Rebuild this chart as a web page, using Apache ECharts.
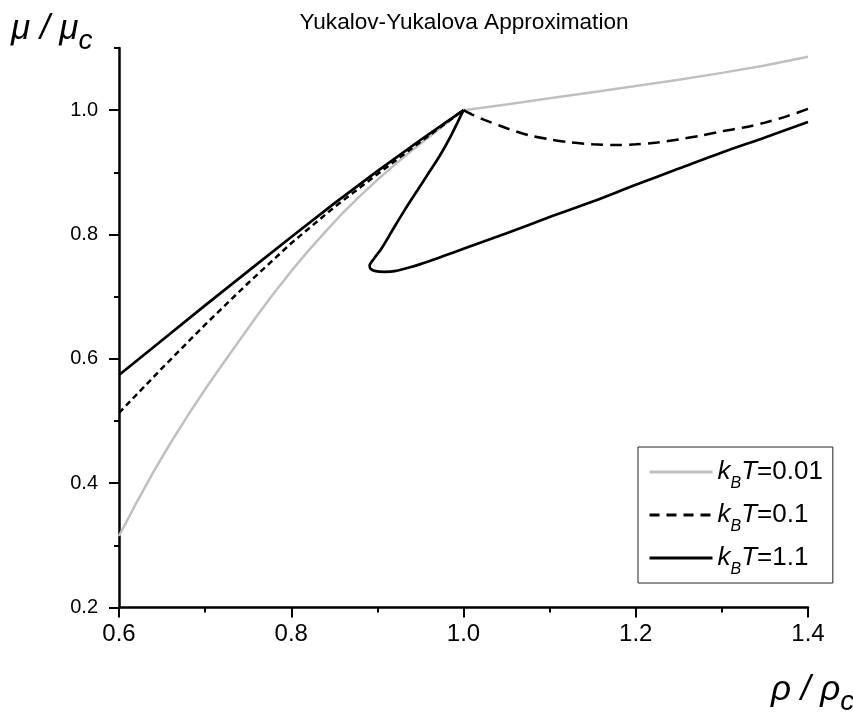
<!DOCTYPE html>
<html>
<head>
<meta charset="utf-8">
<title>Yukalov-Yukalova Approximation</title>
<script src="https://cdn.jsdelivr.net/npm/echarts@6/dist/echarts.min.js"></script>
<style>
  html, body { margin: 0; padding: 0; background: #fff; }
  #main { width: 853px; height: 713px; }
</style>
</head>
<body>
<div id="main"></div>
<script>
// legend labels (k_B T values)
var temps = ['0.01', '0.1', '1.1'];

// kBT = 0.01, grey curve
var rhoA = [0.60, 0.62, 0.64, 0.66, 0.68, 0.70, 0.72, 0.74, 0.76, 0.78, 0.80, 0.82, 0.84, 0.86, 0.88,
  0.90, 0.92, 0.94, 0.96, 0.98, 1.00, 1.05, 1.10, 1.15, 1.20, 1.25, 1.30, 1.35, 1.40];
var muA = [0.315, 0.368, 0.418, 0.465, 0.509, 0.551, 0.591, 0.630, 0.669, 0.706, 0.741, 0.774, 0.805, 0.835, 0.862,
  0.888, 0.912, 0.935, 0.957, 0.979, 1.000, 1.009, 1.019, 1.029, 1.039, 1.049, 1.060, 1.072, 1.086];

// kBT = 0.1, dashed curve (left part, then right part)
var rhoB1 = [0.60, 0.65, 0.70, 0.75, 0.80, 0.85, 0.90, 0.95, 1.00];
var muB1 = [0.513, 0.585, 0.655, 0.722, 0.786, 0.844, 0.897, 0.949, 1.000];
var rhoB2 = [1.00, 1.01, 1.025, 1.05, 1.075, 1.10, 1.125, 1.15, 1.175, 1.20, 1.225, 1.25, 1.275, 1.30,
  1.325, 1.35, 1.375, 1.40];
var muB2 = [1.000, 0.993, 0.984, 0.971, 0.960, 0.953, 0.948, 0.945, 0.944, 0.945, 0.948, 0.953, 0.959, 0.966,
  0.972, 0.980, 0.990, 1.002];

// kBT = 1.1, solid curve: straight part up to the cusp
var rhoC1 = [0.60, 0.65, 0.70, 0.75, 0.80, 0.85, 0.90, 0.95, 1.00];
var muC1 = [0.574, 0.630, 0.686, 0.741, 0.796, 0.850, 0.902, 0.952, 1.000];
// then back down through the loop and along the lower branch
var rhoC2 = [1.00, 0.993, 0.984, 0.973, 0.960, 0.946, 0.932, 0.918, 0.905, 0.896, 0.891, 0.892, 0.898, 0.908,
  0.920, 0.94, 0.96, 0.98, 1.00, 1.05, 1.10, 1.15, 1.20, 1.25, 1.30, 1.35, 1.40];
var muC2 = [1.000, 0.980, 0.955, 0.928, 0.900, 0.870, 0.840, 0.808, 0.778, 0.761, 0.750, 0.745, 0.741, 0.740,
  0.741, 0.748, 0.757, 0.767, 0.777, 0.802, 0.828, 0.853, 0.880, 0.906, 0.932, 0.956, 0.981];

var yTicks = [0.2, 0.4, 0.6, 0.8, 1.0];
var yMinorTicks = [0.3, 0.5, 0.7, 0.9, 1.1];

function pairs(xs, ys) {
  return xs.map(function (x, i) { return [x, ys[i]]; });
}

var names = temps.map(function (t) { return 'kBT=' + t; });
var font = 'Liberation Sans';

var nameRich = {
  m: { fontFamily: font, fontStyle: 'italic', fontSize: 35, lineHeight: 42 },
  c: { fontFamily: font, fontStyle: 'italic', fontSize: 28, lineHeight: 42, padding: [24, 0, 0, 0] }
};

var chart = echarts.init(document.getElementById('main'));
chart.setOption({
  animation: false,
  backgroundColor: '#fff',
  textStyle: { fontFamily: font },
  title: {
    text: 'Yukalov-Yukalova Approximation',
    left: 464,
    top: 11,
    padding: 0,
    textAlign: 'center',
    textStyle: { fontFamily: font, fontSize: 22.6, fontWeight: 'normal', color: '#000' }
  },
  grid: { left: 119, right: 45, top: 48, bottom: 105.5 },
  legend: {
    orient: 'vertical',
    left: 638,
    top: 447,
    padding: [5, 10, 5, 10],
    itemGap: 3,
    itemWidth: 63,
    itemHeight: 14,
    borderColor: '#222',
    borderWidth: 1,
    backgroundColor: '#fff',
    itemStyle: { opacity: 0 },
    lineStyle: { width: 3 },
    data: [
      { name: names[0] },
      { name: names[1], lineStyle: { type: [10, 7], width: 3 } },
      { name: names[2] }
    ],
    formatter: function (name) {
      return '{k|k}{b|B}{t|T}{n|=' + name.split('=')[1] + '}';
    },
    textStyle: {
      color: '#000',
      fontSize: 26,
      lineHeight: 31,
      rich: {
        k: { fontFamily: font, fontStyle: 'italic', fontSize: 26, lineHeight: 31 },
        b: { fontFamily: font, fontStyle: 'italic', fontSize: 16, lineHeight: 31, padding: [24, 0, 0, 0] },
        t: { fontFamily: font, fontStyle: 'italic', fontSize: 26, lineHeight: 31 },
        n: { fontFamily: font, fontSize: 26, lineHeight: 31 }
      }
    }
  },
  xAxis: {
    type: 'value',
    min: 0.6,
    max: 1.4,
    interval: 0.2,
    axisLine: { lineStyle: { color: '#000', width: 2.5 } },
    axisTick: { length: 10, lineStyle: { color: '#000', width: 2 } },
    minorTick: { show: true, splitNumber: 2, length: 5, lineStyle: { color: '#000', width: 2 } },
    splitLine: { show: false },
    axisLabel: {
      margin: 15,
      fontSize: 24,
      color: '#000',
      fontFamily: font,
      formatter: function (v) { return v.toFixed(1); }
    }
  },
  yAxis: [
    {
      type: 'value',
      min: 0.2,
      max: 1.1,
      interval: 0.2,
      axisLine: { show: true, lineStyle: { color: '#000', width: 2.5 } },
      axisTick: { show: true, length: 10, customValues: yTicks, lineStyle: { color: '#000', width: 2 } },
      splitLine: { show: false },
      axisLabel: {
        margin: 21,
        fontSize: 20,
        color: '#000',
        fontFamily: font,
        customValues: yTicks,
        formatter: function (v) { return v.toFixed(1); }
      }
    },
    {
      // minor ticks only
      type: 'value',
      min: 0.2,
      max: 1.1,
      interval: 0.1,
      position: 'left',
      axisLine: { show: false },
      axisTick: { show: true, length: 5, customValues: yMinorTicks, lineStyle: { color: '#000', width: 2 } },
      axisLabel: { show: false },
      splitLine: { show: false }
    }
  ],
  graphic: [
    {
      type: 'text',
      left: 11,
      top: 3,
      style: { text: '{m|μ / μ}{c|c}', fill: '#000', rich: nameRich }
    },
    {
      type: 'text',
      left: 771,
      top: 664,
      style: { text: '{m|ρ / ρ}{c|c}', fill: '#000', rich: nameRich }
    }
  ],
  series: [
    {
      name: names[0],
      type: 'line',
      symbol: 'none',
      data: pairs(rhoA, muA),
      lineStyle: { color: '#c0c0c0', width: 2.5 },
      itemStyle: { color: '#c0c0c0' }
    },
    {
      name: names[1],
      type: 'line',
      symbol: 'none',
      data: pairs(rhoB1, muB1),
      lineStyle: { color: '#000', width: 2.5, type: [6, 4] },
      itemStyle: { color: '#000' }
    },
    {
      name: names[1],
      type: 'line',
      symbol: 'none',
      smooth: 0.3,
      data: pairs(rhoB2, muB2),
      lineStyle: { color: '#000', width: 2.5, type: [12, 7] },
      itemStyle: { color: '#000' }
    },
    {
      name: names[2],
      type: 'line',
      symbol: 'none',
      data: pairs(rhoC1, muC1),
      lineStyle: { color: '#000', width: 2.7 },
      itemStyle: { color: '#000' }
    },
    {
      name: names[2],
      type: 'line',
      symbol: 'none',
      smooth: 0.3,
      data: pairs(rhoC2, muC2),
      lineStyle: { color: '#000', width: 2.7 },
      itemStyle: { color: '#000' }
    }
  ]
});
</script>
</body>
</html>
